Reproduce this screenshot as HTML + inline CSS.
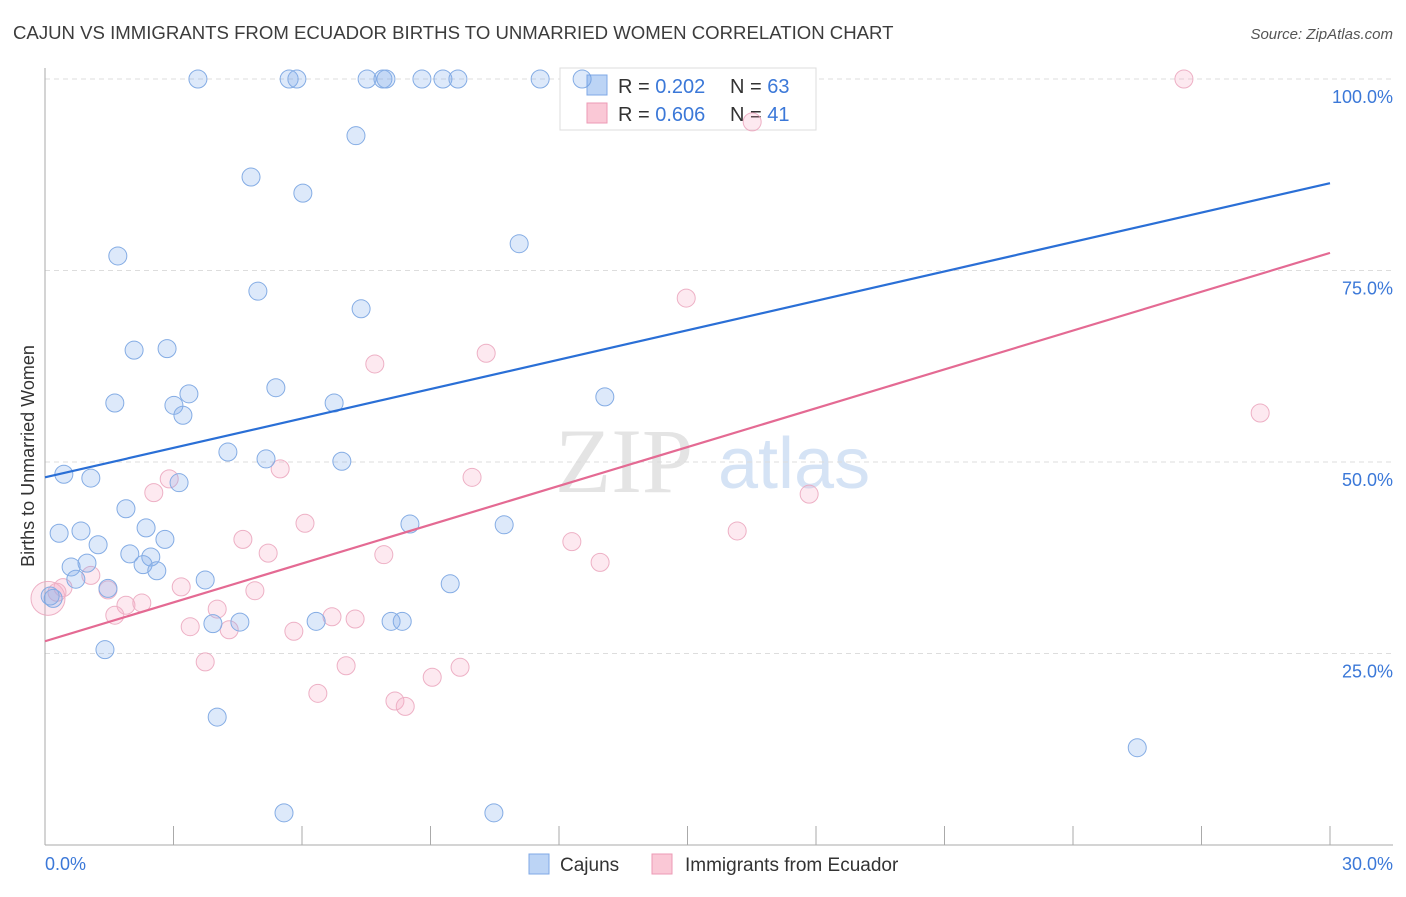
<!DOCTYPE html>
<html><head><meta charset="utf-8"><style>
body{margin:0;background:#fff;font-family:"Liberation Sans",sans-serif}
</style></head><body>
<svg id="chart" width="1406" height="892" xmlns="http://www.w3.org/2000/svg" font-family="Liberation Sans, sans-serif">
<text x="13" y="39" font-size="18.6" fill="#3c3c3c">CAJUN VS IMMIGRANTS FROM ECUADOR BIRTHS TO UNMARRIED WOMEN CORRELATION CHART</text>
<text x="1393" y="39" font-size="15" fill="#555" text-anchor="end" font-style="italic">Source: ZipAtlas.com</text>
<g>
<text x="555" y="492" font-size="92" font-family="Liberation Serif, serif" fill="#e4e4e4">ZIP</text>
<text x="718" y="488" font-size="72" fill="#d5e3f5">atlas</text>
</g>
<g id="grid"></g>
<g id="axes"></g>
<g>
<rect x="560" y="68" width="256" height="62" fill="#fff" stroke="#ddd"/>
<rect x="587" y="75" width="20" height="20" fill="#bcd4f5" stroke="#7fa8e6"/>
<rect x="587" y="103" width="20" height="20" fill="#fac8d6" stroke="#ec9ab5"/>
<text x="618" y="93" font-size="20" fill="#333">R = <tspan fill="#3b78d8">0.202</tspan><tspan x="730">N = </tspan><tspan fill="#3b78d8">63</tspan></text>
<text x="618" y="121" font-size="20" fill="#333">R = <tspan fill="#3b78d8">0.606</tspan><tspan x="730">N = </tspan><tspan fill="#3b78d8"> 41</tspan></text>
</g>
<g id="marks" opacity="0.85"></g>
<text transform="translate(34,456) rotate(-90)" font-size="18" fill="#333" text-anchor="middle">Births to Unmarried Women</text>
<g>
<rect x="529" y="854" width="20" height="20" fill="#bcd4f5" stroke="#7fa8e6"/>
<text x="560" y="871" font-size="19" fill="#333">Cajuns</text>
<rect x="652" y="854" width="20" height="20" fill="#fac8d6" stroke="#ec9ab5"/>
<text x="685" y="871" font-size="19" fill="#333">Immigrants from Ecuador</text>
</g>
</svg>
<script>
const yTicks=[25,50,75,100];
const yTickLabels=["25.0%","50.0%","75.0%","100.0%"];
const xTicks=[0,3,6,9,12,15,18,21,24,27,30];
const xLabels=["0.0%","30.0%"];
const cajunX=[3.57,5.70,5.88,7.52,7.89,7.96,8.80,9.29,9.64,11.56,12.54,7.26,4.81,6.02,11.07,1.70,4.97,7.38,2.08,2.85,3.36,5.39,1.63,3.01,3.22,6.75,13.07,4.27,5.16,6.93,0.44,1.07,3.13,1.89,0.33,0.84,2.36,1.24,2.80,1.98,2.47,0.61,0.98,2.29,2.61,0.72,3.74,1.47,0.19,3.92,4.55,6.33,8.08,8.34,8.52,10.72,9.46,1.40,4.02,5.58,10.48,25.50,0.12];
const cajunY=[100,100,100,100,100,100,100,100,100,100,100,92.6,87.2,85.1,78.5,76.9,72.3,70.0,64.6,64.8,58.9,59.7,57.7,57.4,56.1,57.7,58.5,51.3,50.4,50.1,48.4,47.9,47.3,43.9,40.7,41.0,41.4,39.2,39.9,38.0,37.6,36.3,36.8,36.6,35.8,34.7,34.6,33.5,32.2,28.9,29.1,29.2,29.2,29.2,41.9,41.8,34.1,25.5,16.7,4.2,4.2,12.7,32.5];
const ecuX=[26.59,16.51,14.97,10.30,7.70,28.37,5.49,9.97,2.90,2.54,17.84,6.07,16.16,4.62,12.30,5.21,7.91,12.96,1.07,0.42,1.47,3.18,4.90,1.89,2.26,4.02,1.63,6.70,7.24,3.39,4.30,5.81,3.74,7.03,9.69,9.04,6.37,8.17,8.41,0.07,0.28];
const ecuY=[100,94.4,71.4,64.2,62.8,56.4,49.1,48.0,47.8,46.0,45.8,42.0,41.0,39.9,39.6,38.1,37.9,36.9,35.2,33.6,33.3,33.7,33.2,31.3,31.6,30.8,30.0,29.8,29.5,28.5,28.1,27.9,23.9,23.4,23.2,21.9,19.8,18.8,18.1,32.2,33.0];
const cajunTrend=[48.0,86.4];
const ecuTrend=[26.6,77.3];
const NS="http://www.w3.org/2000/svg";
const X=v=>45+v/30*1285;
const Y=v=>845-v/100*766;
function mk(t,a,p){const e=document.createElementNS(NS,t);for(const k in a)e.setAttribute(k,a[k]);p.appendChild(e);return e;}
const grid=document.getElementById('grid'),axes=document.getElementById('axes'),marks=document.getElementById('marks');
yTicks.forEach((v,i)=>{
 const l=mk('line',{x1:45,x2:1393,y1:Y(v),y2:Y(v),stroke:'#ddd','stroke-dasharray':'5,4'},grid);
 
 
 const t=mk('text',{x:1393,y:Y(v)+24,'font-size':18,fill:'#3b78d8','text-anchor':'end'},axes);
 t.textContent=yTickLabels[i];
 
 
});
const xa=mk('line',{x1:45,x2:1393,y1:845,y2:845,stroke:'#aaa'},axes);


const ya=mk('line',{x1:45,x2:45,y1:68,y2:845,stroke:'#aaa'},axes);


xTicks.forEach(v=>{
 const t=mk('line',{x1:X(v),x2:X(v),y1:826,y2:845,stroke:'#aaa'},axes);
 
 
});
const xl0=mk('text',{x:45,y:870,'font-size':18,fill:'#3b78d8'},axes);xl0.textContent=xLabels[0];


const xl1=mk('text',{x:1393,y:870,'font-size':18,fill:'#3b78d8','text-anchor':'end'},axes);xl1.textContent=xLabels[1];


function pts(xs,ys,fill,stroke,name){
 xs.forEach((x,i)=>{
  const big=(name==='ecuador-point'&&i===39);
  const c=mk('circle',{cx:X(x),cy:Y(ys[i]),r:big?17:9,fill:fill,stroke:stroke,'stroke-width':1},marks);
  
  
 });
}
pts(ecuX,ecuY,'rgba(245,160,190,0.28)','#eba3bb','ecuador-point');
pts(cajunX,cajunY,'rgba(110,160,235,0.28)','#6f9ee0','cajun-point');
const tb=mk('line',{x1:X(0),y1:Y(cajunTrend[0]),x2:X(30),y2:Y(cajunTrend[1]),stroke:'#2a6fd6','stroke-width':2.2},axes.parentNode);


const tp=mk('line',{x1:X(0),y1:Y(ecuTrend[0]),x2:X(30),y2:Y(ecuTrend[1]),stroke:'#e46a93','stroke-width':2.2},axes.parentNode);


</script>
</body></html>
